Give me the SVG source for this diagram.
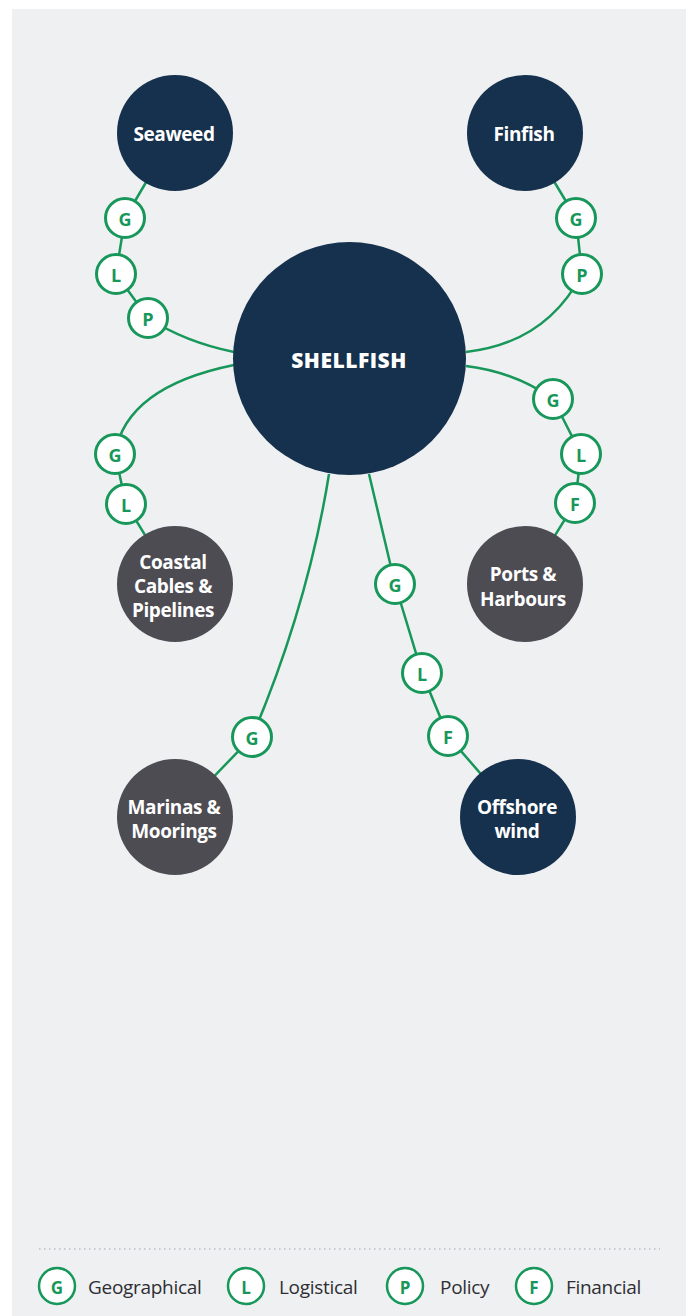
<svg xmlns="http://www.w3.org/2000/svg" width="691" height="1316" viewBox="0 0 691 1316">
<style>
.bg{fill:#ffffff}
.panel{fill:#eff0f2}
.navy{fill:#16314d}
.grey{fill:#4d4c53}
.lbl{font-family:"Open Sans","Liberation Sans",sans-serif;font-weight:700;font-size:19px;letter-spacing:-0.4px;fill:#ffffff;text-anchor:middle;dominant-baseline:central}
.main{font-family:"Open Sans","Liberation Sans",sans-serif;font-weight:800;font-size:21px;fill:#ffffff;text-anchor:middle;dominant-baseline:central}
.conn{fill:none;stroke:#17975a;stroke-width:2.5}
.badge circle{fill:#ffffff;stroke:#17975a;stroke-width:3}
.badge text{font-family:"Open Sans","Liberation Sans",sans-serif;font-weight:700;font-size:18px;fill:#17975a;text-anchor:middle;dominant-baseline:central}
.lg circle{fill:#ffffff;stroke:#17975a;stroke-width:2.5}
.lg .k{font-family:"Open Sans","Liberation Sans",sans-serif;font-weight:700;font-size:17px;fill:#17975a;text-anchor:middle;dominant-baseline:central}
.lg .t{font-family:"Open Sans","Liberation Sans",sans-serif;font-weight:400;font-size:19px;letter-spacing:-0.3px;fill:#2e2e33;dominant-baseline:central}
</style>
<rect class="bg" x="0" y="0" width="691" height="1316"/>
<rect class="panel" x="12" y="9" width="674" height="1307"/>
<g id="connectors">
<path class="conn" d="M175,133 L125,218 L116,274 L148,318 Q185,342 234,352"/>
<path class="conn" d="M525,133 L576,218 L582,274 Q546,343 466,352"/>
<path class="conn" d="M234,365 Q126,387 115,454 L126,504 L175,584"/>
<path class="conn" d="M466,366 Q515,372 553,399 L581,454 L575,503 L525,584"/>
<path class="conn" d="M329,474 Q308,605 252,737 L175,817"/>
<path class="conn" d="M369,474 L395,584 L422,673 L448,736 L518,817"/>
</g>
<g id="shellfish"><circle class="navy" cx="349.5" cy="358.5" r="116.5"/><text class="main" x="349" y="360" letter-spacing="0.5">SHELLFISH</text></g>
<g id="seaweed"><circle class="navy" cx="175" cy="133" r="58"/><text class="lbl" x="174" y="134">Seaweed</text></g>
<g id="finfish"><circle class="navy" cx="525" cy="133" r="58"/><text class="lbl" x="524" y="134">Finfish</text></g>
<g id="coastal"><circle class="grey" cx="175" cy="584" r="58"/><text class="lbl" x="173" y="562">Coastal</text><text class="lbl" x="173" y="586">Cables &amp;</text><text class="lbl" x="173" y="610">Pipelines</text></g>
<g id="ports"><circle class="grey" cx="525" cy="584" r="58"/><text class="lbl" x="523" y="574">Ports &amp;</text><text class="lbl" x="523" y="598.5">Harbours</text></g>
<g id="marinas"><circle class="grey" cx="175" cy="817" r="58"/><text class="lbl" x="174" y="807">Marinas &amp;</text><text class="lbl" x="174" y="831">Moorings</text></g>
<g id="offshore"><circle class="navy" cx="518" cy="817" r="58"/><text class="lbl" x="517" y="807">Offshore</text><text class="lbl" x="517" y="831">wind</text></g>
<g id="badges">
<g class="badge"><circle cx="125" cy="218" r="19.5"/><text x="125" y="219">G</text></g>
<g class="badge"><circle cx="116" cy="274" r="19.5"/><text x="116" y="275">L</text></g>
<g class="badge"><circle cx="148" cy="318" r="19.5"/><text x="148" y="319">P</text></g>
<g class="badge"><circle cx="576" cy="218" r="19.5"/><text x="576" y="219">G</text></g>
<g class="badge"><circle cx="582" cy="274" r="19.5"/><text x="582" y="275">P</text></g>
<g class="badge"><circle cx="115" cy="454" r="19.5"/><text x="115" y="455">G</text></g>
<g class="badge"><circle cx="126" cy="504" r="19.5"/><text x="126" y="505">L</text></g>
<g class="badge"><circle cx="553" cy="399" r="19.5"/><text x="553" y="400">G</text></g>
<g class="badge"><circle cx="581" cy="454" r="19.5"/><text x="581" y="455">L</text></g>
<g class="badge"><circle cx="575" cy="503" r="19.5"/><text x="575" y="504">F</text></g>
<g class="badge"><circle cx="252" cy="737" r="19.5"/><text x="252" y="738">G</text></g>
<g class="badge"><circle cx="395" cy="584" r="19.5"/><text x="395" y="585">G</text></g>
<g class="badge"><circle cx="422" cy="673" r="19.5"/><text x="422" y="674">L</text></g>
<g class="badge"><circle cx="448" cy="736" r="19.5"/><text x="448" y="737">F</text></g>
</g>
<g id="legend" class="lg">
<line x1="39" y1="1249" x2="660" y2="1249" stroke="#b9bcc2" stroke-width="1.5" stroke-dasharray="1.5 3.5"/>
<circle cx="57" cy="1286" r="18"/><text class="k" x="57" y="1287">G</text><text class="t" x="88" y="1287">Geographical</text>
<circle cx="246" cy="1286" r="18"/><text class="k" x="246" y="1287">L</text><text class="t" x="279" y="1287">Logistical</text>
<circle cx="405" cy="1286" r="18"/><text class="k" x="405" y="1287">P</text><text class="t" x="440" y="1287">Policy</text>
<circle cx="534" cy="1286" r="18"/><text class="k" x="534" y="1287">F</text><text class="t" x="566" y="1287">Financial</text>
</g>
</svg>
